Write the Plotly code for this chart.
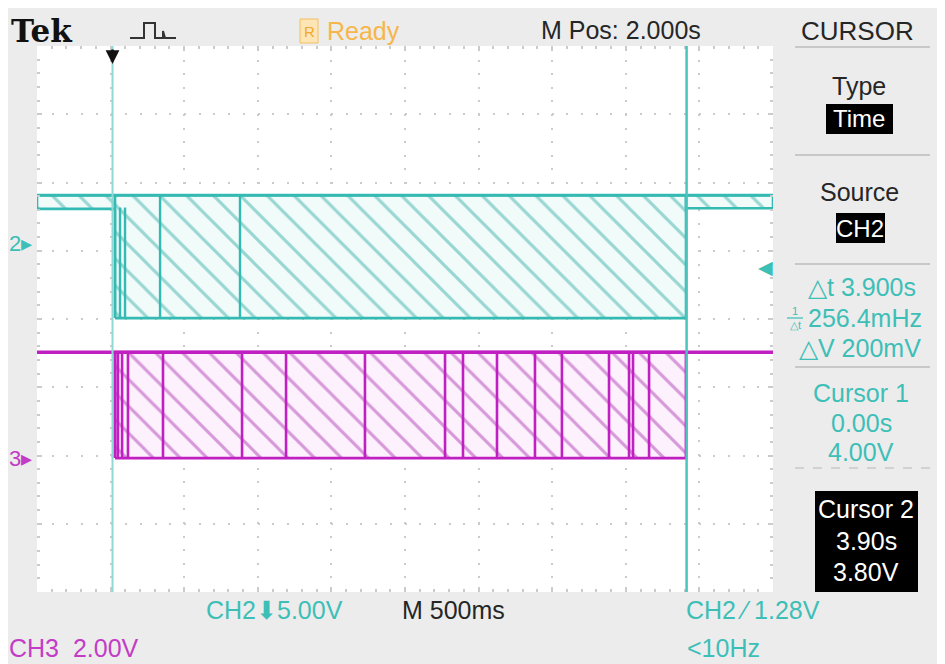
import plotly.graph_objects as go

# ---------------- data read from the scope screen ----------------
# horizontal: 500 ms/div, 10 divisions, trigger (cursor 1) at t = 0
t_start = -0.513
t_end = 4.487
sec_per_div = 0.5

# vertical: 8 divisions, each channel has its own scale / ground offset (div)
ch2_volts_per_div = 5.0
ch2_offset_div = 1.113
ch3_volts_per_div = 2.0
ch3_offset_div = -2.037

# CH2 envelope segments (seconds, volts)
ch2_seg_start = [-0.513, 0.017, 3.896]
ch2_seg_end = [0.017, 3.896, 4.487]
ch2_seg_low = [2.5, -5.5, 2.55]
ch2_seg_high = [3.5, 3.5, 3.5]
ch2_edge_times = [0.017, 0.051, 0.085, 0.323, 0.866]
ch2_edge_low = [-5.5, -5.5, -5.5, -5.5, -5.5]
ch2_edge_high = [2.5, 2.6, 2.6, 3.5, 3.5]

# CH3 levels and burst
ch3_level_high = 3.1
ch3_level_low = 0.0
ch3_burst_start = 0.017
ch3_burst_end = 3.896
ch3_edge_times = [0.017, 0.037, 0.065, 0.105, 0.343, 0.880, 1.179, 1.715, 2.259,
                  2.381, 2.612, 2.870, 3.053, 3.373, 3.509, 3.536, 3.645]

cursor_times = [0.0, 3.9]
trigger_marker_div = 0.76

# ---------------- styling ----------------
W, H = 945, 664
PAGE_OFF = 8                      # the page body margin shifts the figure
L, R, T, B = 37, 773, 46, 592     # graticule edges in screen pixels
SANS = "Liberation Sans, Arial, sans-serif"
CYAN = "#34bab2"
CYAN_TXT = "#3dbfb7"
MAG = "#c01fc2"
MAG_TXT = "#c23cc6"
DARK = "#262626"
GRID = "#cbcbcb"


def pxx(x):
    return (x - L) / (R - L)


def pyy(y):
    return (B - y) / (B - T)


def ch2_div(v):
    return ch2_offset_div + v / ch2_volts_per_div


def ch3_div(v):
    return ch3_offset_div + v / ch3_volts_per_div


fig = go.Figure()

# ---- CH2 hatched envelope ----
for s, e, lo, hi in zip(ch2_seg_start, ch2_seg_end, ch2_seg_low, ch2_seg_high):
    fig.add_trace(go.Scatter(
        x=[s, s, e, e, s],
        y=[ch2_div(lo), ch2_div(hi), ch2_div(hi), ch2_div(lo), ch2_div(lo)],
        mode="lines", fill="toself",
        line=dict(color=CYAN, width=2.6),
        fillcolor="rgba(0,0,0,0)",
        fillpattern=dict(shape="\\", size=19, solidity=0.16,
                         fgcolor="#3fb1a9", bgcolor="#f0fbfa"),
        hoverinfo="skip"))

xs, ys = [], []
for t, lo, hi in zip(ch2_edge_times, ch2_edge_low, ch2_edge_high):
    xs += [t, t, None]
    ys += [ch2_div(lo), ch2_div(hi), None]
fig.add_trace(go.Scatter(x=xs, y=ys, mode="lines",
                         line=dict(color=CYAN, width=2.4), hoverinfo="skip"))
fig.add_trace(go.Scatter(x=[t_start, t_end],
                         y=[ch2_div(max(ch2_seg_high))] * 2, mode="lines",
                         line=dict(color=CYAN, width=3.2), hoverinfo="skip"))

# ---- CH3 ----
fig.add_trace(go.Scatter(
    x=[ch3_burst_start, ch3_burst_start, ch3_burst_end, ch3_burst_end, ch3_burst_start],
    y=[ch3_div(ch3_level_low), ch3_div(ch3_level_high), ch3_div(ch3_level_high),
       ch3_div(ch3_level_low), ch3_div(ch3_level_low)],
    mode="lines", fill="toself",
    line=dict(color=MAG, width=2.8),
    fillcolor="rgba(0,0,0,0)",
    fillpattern=dict(shape="\\", size=19, solidity=0.16,
                     fgcolor="#b03fb6", bgcolor="#fdf1fd"),
    hoverinfo="skip"))
xs, ys = [], []
for t in ch3_edge_times:
    xs += [t, t, None]
    ys += [ch3_div(ch3_level_low), ch3_div(ch3_level_high), None]
fig.add_trace(go.Scatter(x=xs, y=ys, mode="lines",
                         line=dict(color=MAG, width=2.6), hoverinfo="skip"))
fig.add_trace(go.Scatter(x=[t_start, t_end], y=[ch3_div(ch3_level_high)] * 2,
                         mode="lines", line=dict(color=MAG, width=3.4),
                         hoverinfo="skip"))

# ---- cursors ----
shapes = []
shapes.append(dict(type="line", xref="x", yref="paper", x0=cursor_times[0],
                   x1=cursor_times[0], y0=0, y1=1,
                   line=dict(color="#8fd8d3", width=2)))
shapes.append(dict(type="line", xref="x", yref="paper", x0=cursor_times[1],
                   x1=cursor_times[1], y0=0, y1=1,
                   line=dict(color="#4cc4be", width=2.5)))


def prect(x0, y0, x1, y1, fill, line=None, width=0):
    return dict(type="rect", xref="paper", yref="paper",
                x0=pxx(x0), x1=pxx(x1), y0=pyy(y1), y1=pyy(y0),
                fillcolor=fill, line=dict(width=width, color=line or fill),
                layer="above")


def pline(x0, y0, x1, y1, color, width=1.5, dash=None):
    d = dict(type="line", xref="paper", yref="paper",
             x0=pxx(x0), x1=pxx(x1), y0=pyy(y0), y1=pyy(y1),
             line=dict(color=color, width=width))
    if dash:
        d["line"]["dash"] = dash
    return d


# R (run state) box
shapes.append(prect(300, 19, 318, 43, "#fde5b5", "#f3c060", 1))
# pulse icon
pts = [(130, 38), (144, 38), (144, 23), (155, 23), (155, 38), (163, 38),
       (163, 31), (165, 38), (176, 38)]
path = "M " + " L ".join(f"{pxx(a)},{pyy(b)}" for a, b in pts)
shapes.append(dict(type="path", xref="paper", yref="paper", path=path,
                   line=dict(color="#333", width=2)))
# right menu separators
for yy in [47, 155, 264, 367]:
    shapes.append(pline(795, yy, 930, yy, "#bdbdbd", 1.5))
shapes.append(pline(795, 468, 930, 468, "#c8c8c8", 1.5, "dash"))
# black highlight boxes
shapes.append(prect(826, 104, 893, 134, "black"))
shapes.append(prect(836, 213, 885, 243, "black"))
shapes.append(prect(815, 491, 918, 592, "black"))
# 1/Δt fraction bar
shapes.append(pline(787, 318, 803, 318, CYAN_TXT, 1.2))

ann = []


def txt(s, x, y, size=25, color=DARK, anchor="center", family=SANS):
    ann.append(dict(text=s, x=pxx(x), y=pyy(y), xref="paper", yref="paper",
                    xanchor=anchor, yanchor="middle", showarrow=False,
                    font=dict(size=size, color=color, family=family)))


txt("<b>Tek</b>", 9, 31, 31, "#111", "left", "DejaVu Serif, serif")
txt("R", 309, 31, 15, "#f0a830")
txt("Ready", 325, 31, 25, "#f6b649", "left")
txt("M Pos: 2.000s", 539, 30, 25, DARK, "left")
txt("CURSOR", 857, 31, 26, DARK)

txt("Type", 859, 86, 25, DARK)
txt("Time", 859, 119, 24, "white")
txt("Source", 859, 192, 25, DARK)
txt("CH2", 860, 228, 24, "white")
txt("△t 3.900s", 862, 287, 25, CYAN_TXT)
txt("1", 795, 311, 11, CYAN_TXT)
txt("△t", 795, 325, 11, CYAN_TXT)
txt("256.4mHz", 806, 318, 25, CYAN_TXT, "left")
txt("△V 200mV", 860, 348, 25, CYAN_TXT)
txt("Cursor 1", 861, 393, 25, CYAN_TXT)
txt("0.00s", 861, 423, 25, CYAN_TXT)
txt("4.00V", 861, 452, 25, CYAN_TXT)
txt("Cursor 2", 866, 509, 25, "white")
txt("3.90s", 866, 541, 25, "white")
txt("3.80V", 866, 572, 25, "white")

txt("CH2⬇5.00V", 204, 610, 25, CYAN_TXT, "left")
txt("M 500ms", 400, 610, 25, DARK, "left")
txt("CH2 ⁄ 1.28V", 684, 610, 25, CYAN_TXT, "left")
txt("CH3  2.00V", 7, 648, 25, MAG_TXT, "left")
txt("&lt;10Hz", 685, 648, 25, CYAN_TXT, "left")

ann.append(dict(text="2▸", x=pxx(7), xref="paper", y=ch2_offset_div, yref="y",
                xanchor="left", yanchor="middle", showarrow=False,
                font=dict(size=22, color=CYAN_TXT, family=SANS)))
ann.append(dict(text="3▸", x=pxx(7), xref="paper", y=ch3_offset_div, yref="y",
                xanchor="left", yanchor="middle", showarrow=False,
                font=dict(size=22, color=MAG_TXT, family=SANS)))
ann.append(dict(text="◀", x=pxx(765), xref="paper", y=trigger_marker_div, yref="y",
                xanchor="center", yanchor="middle", showarrow=False,
                font=dict(size=19, color=CYAN_TXT, family="DejaVu Sans")))
ann.append(dict(text="", x=cursor_times[0], xref="x", y=pyy(64), yref="paper",
                showarrow=True, ax=0, ay=-16, arrowhead=2, arrowsize=1.1,
                arrowwidth=2.5, arrowcolor="#111"))

fig.update_layout(
    width=W, height=H, autosize=False,
    margin=dict(l=L - PAGE_OFF, r=W - (R - PAGE_OFF), t=T - PAGE_OFF,
                b=H - (B - PAGE_OFF), pad=0),
    paper_bgcolor="#ececec", plot_bgcolor="white",
    showlegend=False, shapes=shapes, annotations=ann,
    xaxis=dict(range=[t_start, t_end], tick0=t_start, dtick=sec_per_div,
               showgrid=True, gridcolor=GRID, gridwidth=1.5,
               griddash="2px,11.6px", zeroline=False, showticklabels=False,
               ticks="inside", ticklen=5, tickcolor=GRID, tickwidth=1.5,
               mirror="ticks", showline=False, fixedrange=True,
               minor=dict(tick0=t_start, dtick=sec_per_div / 5, ticks="inside",
                          ticklen=3, tickcolor=GRID, showgrid=False)),
    yaxis=dict(range=[-4, 4], tick0=0, dtick=1,
               showgrid=True, gridcolor=GRID, gridwidth=1.5,
               griddash="2px,12.7px", zeroline=False, showticklabels=False,
               ticks="inside", ticklen=5, tickcolor=GRID, tickwidth=1.5,
               mirror="ticks", showline=False, fixedrange=True,
               minor=dict(tick0=0, dtick=0.2, ticks="inside",
                          ticklen=3, tickcolor=GRID, showgrid=False)),
)

fig.write_html("out.html")
